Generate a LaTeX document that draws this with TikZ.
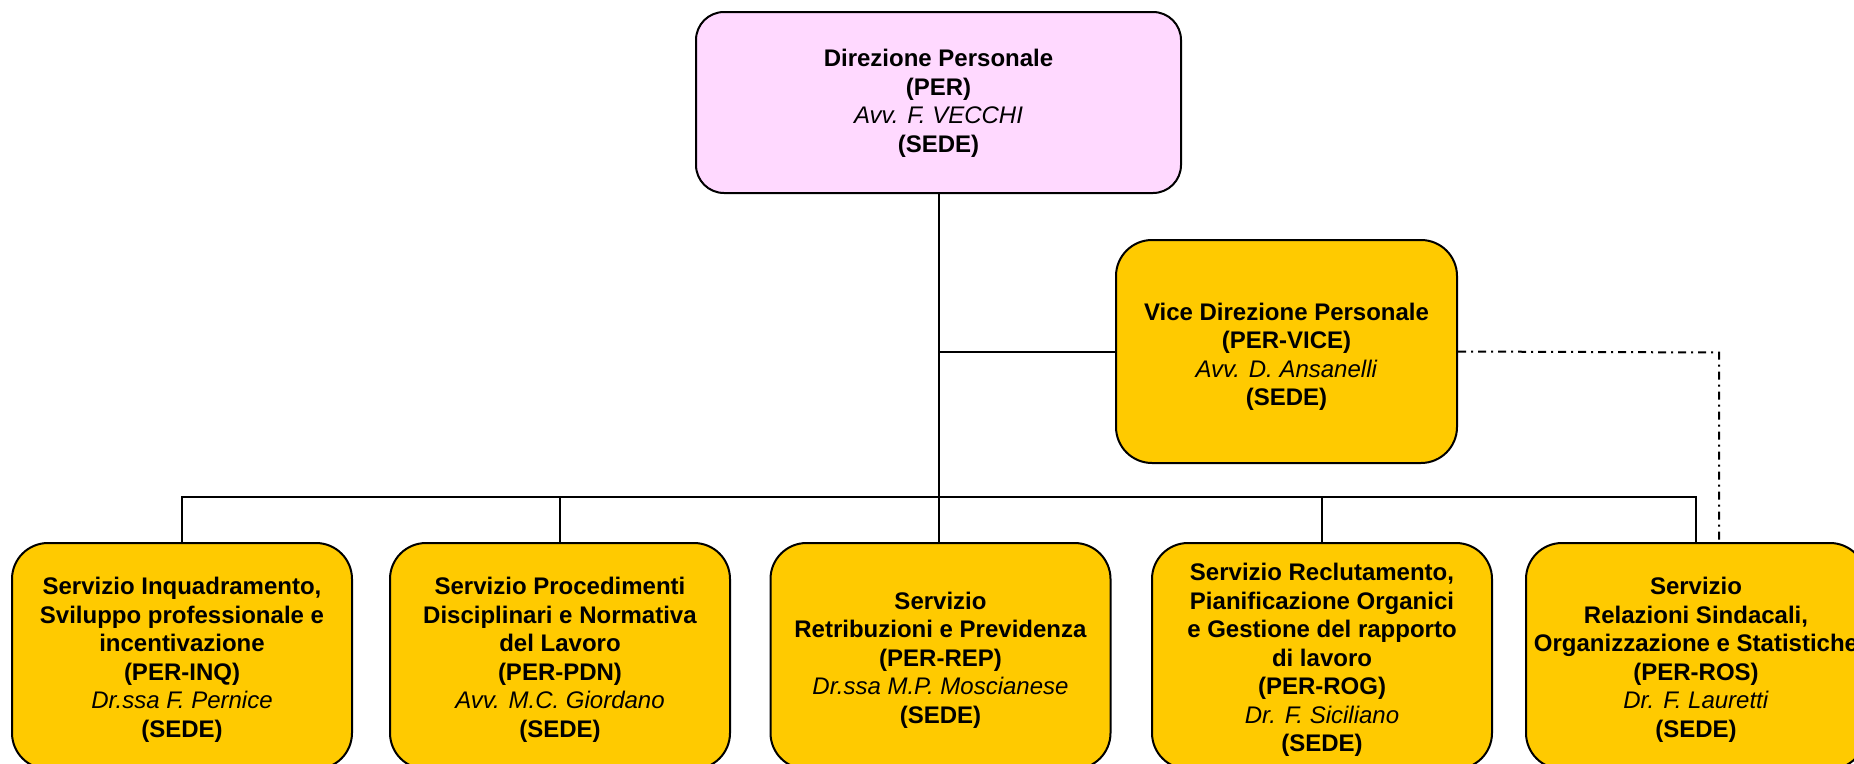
\documentclass[tikz,border=0pt]{standalone}
\usepackage{fontspec}
\setmainfont{Liberation Sans}
\definecolor{pinkfill}{HTML}{FFD9FF}
\definecolor{goldfill}{HTML}{FFCA00}
\newcommand{\downstrut}[1]{\rule{0pt}{#1}}
\begin{document}
\begin{tikzpicture}[x=1pt,y=-1pt,
  unit/.style={draw=black, line width=2pt, align=center, inner sep=2pt,
    font=\fontsize{24}{28.5}\selectfont},
  topbox/.style={unit, fill=pinkfill, rounded corners=28pt, minimum width=485pt, minimum height=181pt},
  vicebox/.style={unit, fill=goldfill, rounded corners=36pt, minimum width=341pt, minimum height=223pt},
  servbox/.style={unit, fill=goldfill, rounded corners=36pt, minimum width=340pt, minimum height=226pt},
  link/.style={line width=2pt, black},
  dashdot/.style={line width=2pt, black, dash pattern=on 8pt off 5pt on 2pt off 5pt}]
\useasboundingbox (0,0) rectangle (1854,763);

\node[topbox] (per) at (938.5,102.5) {\downstrut{19pt}\textbf{Direzione Personale}\\\textbf{(PER)}\\\textit{Avv. F. VECCHI}\\\textbf{(SEDE)}};

\node[vicebox] (vice) at (1286.5,351.5) {\downstrut{28pt}\textbf{Vice Direzione Personale}\\\textbf{(PER-VICE)}\\\textit{Avv. D. Ansanelli}\\\textbf{(SEDE)}};

\node[servbox] (inq) at (182,656) {\downstrut{25pt}\textbf{Servizio Inquadramento,}\\\textbf{Sviluppo professionale e}\\\textbf{incentivazione}\\\textbf{(PER-INQ)}\\\textit{Dr.ssa F. Pernice}\\\textbf{(SEDE)}};

\node[servbox] (pdn) at (560,656) {\downstrut{25pt}\textbf{Servizio Procedimenti}\\\textbf{Disciplinari e Normativa}\\\textbf{del Lavoro}\\\textbf{(PER-PDN)}\\\textit{Avv. M.C. Giordano}\\\textbf{(SEDE)}};

\node[servbox] (rep) at (940.5,656) {\downstrut{25pt}\textbf{Servizio}\\\textbf{Retribuzioni e Previdenza}\\\textbf{(PER-REP)}\\\textit{Dr.ssa M.P. Moscianese}\\\textbf{(SEDE)}};

\node[servbox] (rog) at (1322,656) {\downstrut{25pt}\textbf{Servizio Reclutamento,}\\\textbf{Pianificazione Organici}\\\textbf{e Gestione del rapporto}\\\textbf{di lavoro}\\\textbf{(PER-ROG)}\\\textit{Dr. F. Siciliano}\\\textbf{(SEDE)}};

\node[servbox] (ros) at (1696,656) {\downstrut{25pt}\textbf{Servizio}\\\textbf{Relazioni Sindacali,}\\\textbf{Organizzazione e Statistiche}\\\textbf{(PER-ROS)}\\\textit{Dr. F. Lauretti}\\\textbf{(SEDE)}};

\coordinate (bus) at (0,497);
\coordinate (ddturn) at (1719,352.5);

% main trunk
\draw[link] (per.south) -- (per.south |- rep.north);
% vice branch
\draw[link] (vice.west) -- (vice.west -| per.south);
% bus
\draw[link] (inq.north) -- (inq.north |- bus) -- (ros.north |- bus) -- (ros.north);
\draw[link] (pdn.north) -- (pdn.north |- bus);
\draw[link] (rog.north) -- (rog.north |- bus);
% dash-dot link
\draw[dashdot] (vice.east) -- (ddturn) -- (ddturn |- ros.north);
\end{tikzpicture}
\end{document}
